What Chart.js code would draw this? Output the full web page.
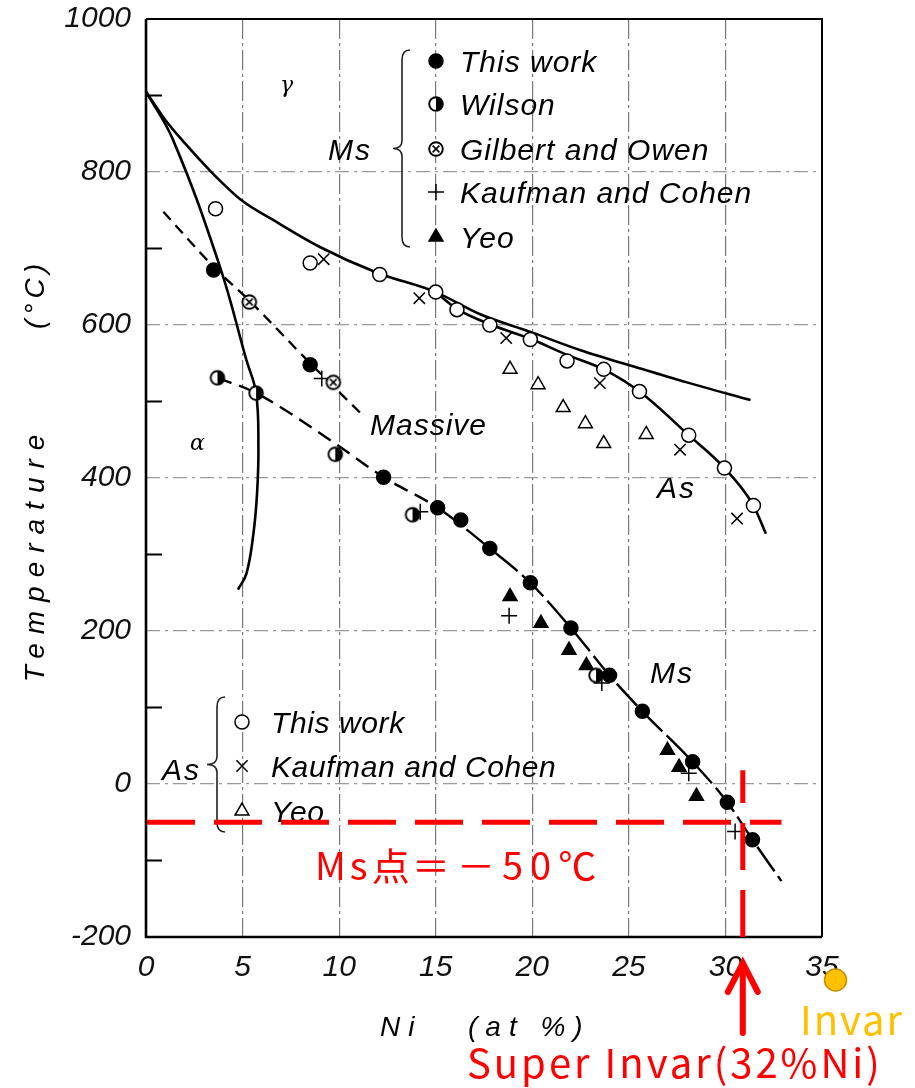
<!DOCTYPE html>
<html>
<head>
<meta charset="utf-8">
<script src="https://cdn.jsdelivr.net/npm/chart.js@4.4.1/dist/chart.umd.min.js"></script>
<style>
html,body{margin:0;padding:0;background:#fff;}
#wrap{width:915px;height:1088px;}
</style>
</head>
<body>
<div id="wrap"><canvas id="grafico" width="915" height="1088"></canvas></div>
<script>
//ejes
const ejeX = {min: 0, max: 35, paso: 5};
const ejeY = {min: -200, max: 1000, paso: 200};

//Ms puntos (Ni at%, temperatura °C)
const msEsteNi = [3.5, 8.5, 12.3, 15.1, 16.3, 17.8, 19.9, 22.0, 24.0, 25.7, 28.3, 30.1, 31.4];
const msEsteT = [672, 548, 401, 361, 345, 308, 263, 204, 142, 95, 29, -24, -73];
const wilsonNi = [3.7, 5.7, 9.8, 13.8, 23.3];
const wilsonT = [531, 511, 431, 352, 142];
const gilbertNi = [5.35, 9.7];
const gilbertT = [630, 525];
const kaufmanMsNi = [9.1, 14.2, 18.8, 23.6, 28.1, 30.5];
const kaufmanMsT = [530, 356, 220, 132, 14, -62];
const yeoMsNi = [18.85, 20.45, 21.9, 22.8, 27.0, 27.6, 28.5];
const yeoMsT = [245, 210, 175, 155, 44, 22, -16];

//As puntos
const asEsteNi = [3.6, 8.5, 12.1, 15.0, 16.1, 17.8, 19.9, 21.8, 23.7, 25.55, 28.1, 29.95, 31.45];
const asEsteT = [752, 681, 666, 643, 620, 600, 581, 553, 542, 513, 456, 413, 364];
const kaufmanAsNi = [9.2, 14.15, 18.65, 23.5, 27.65, 30.6];
const kaufmanAsT = [686, 635, 583, 524, 437, 347];
const yeoAsNi = [18.85, 20.3, 21.6, 22.75, 23.7, 25.9];
const yeoAsT = [542, 522, 492, 471, 445, 457];

//curvas
const curvaSupNi = [0, 1, 2, 3.5, 5, 6.6, 9, 12, 15, 17.3, 19.9, 22.5, 25.6, 28, 31.3];
const curvaSupT = [905, 868, 838, 797, 762, 737, 702, 668, 643, 614, 591, 567, 543, 525, 502];
const curvaAlfaNi = [0, 1.4, 3.83, 5.2, 5.7, 5.82, 5.75, 5.55, 5.2, 4.76];
const curvaAlfaT = [905, 842, 676, 554, 511, 440, 380, 325, 275, 254];
const curvaMasivaNi = [0.9, 3.5, 5.35, 8.5, 11.1];
const curvaMasivaT = [748, 676, 632, 550, 485];
const curvaMsNi = [3.7, 5.7, 9.8, 12.3, 15.1, 17.8, 19.9, 22.0, 24.0, 25.7, 28.3, 30.1, 31.4, 32.9];
const curvaMsT = [531, 511, 445, 401, 361, 308, 263, 204, 142, 95, 29, -24, -73, -127];
const curvaAsNi = [15.0, 16.1, 17.8, 19.9, 21.8, 23.7, 25.55, 28.1, 29.95, 31.45, 32.1];
const curvaAsT = [643, 621, 601, 582, 561, 542, 513, 456, 413, 364, 327];

//marcas en rojo
const msLimite = -50;
const superInvarNi = 30.9;
const invarNi = 35.7;

const pts = (xs, ys) => xs.map((x, i) => ({x: x, y: ys[i]}));

//simbolos especiales
const hacerSimbolo = (tipo) => {
    const c = document.createElement('canvas');
    c.width = 18; c.height = 18;
    const g = c.getContext('2d');
    g.strokeStyle = '#000';
    g.fillStyle = '#fff';
    g.beginPath(); g.arc(9, 9, 6.8, 0, Math.PI * 2); g.fill();
    if (tipo == 'medio') {
        g.fillStyle = '#000';
        g.beginPath(); g.arc(9, 9, 6.8, -Math.PI / 2, Math.PI / 2); g.closePath(); g.fill();
    } else {
        g.lineWidth = 1.6;
        g.beginPath();
        g.moveTo(5.6, 5.6); g.lineTo(12.4, 12.4);
        g.moveTo(12.4, 5.6); g.lineTo(5.6, 12.4);
        g.stroke();
    }
    g.lineWidth = 1.9;
    g.beginPath(); g.arc(9, 9, 6.8, 0, Math.PI * 2); g.stroke();
    return c;
};
const simWilson = hacerSimbolo('medio');
const simGilbert = hacerSimbolo('cruz');

const fuente = '"Liberation Sans", Arial, sans-serif';
const marca = (label, data, estilo) => Object.assign({
    label: label, data: data, showLine: false, order: 0,
    pointRadius: 7, pointHoverRadius: 7, borderColor: '#000', backgroundColor: '#000', pointBorderWidth: 1.5
}, estilo);
const curva = (label, data, estilo) => Object.assign({
    label: label, data: data, showLine: true, order: 1, pointRadius: 0, pointHoverRadius: 0,
    borderColor: '#000', borderWidth: 2.6, fill: false
}, estilo);

const datasets = [
    marca('Ms This work', pts(msEsteNi, msEsteT), {pointStyle: 'circle'}),
    marca('Ms Wilson', pts(wilsonNi, wilsonT), {pointStyle: simWilson}),
    marca('Ms Gilbert and Owen', pts(gilbertNi, gilbertT), {pointStyle: simGilbert}),
    marca('Ms Kaufman and Cohen', pts(kaufmanMsNi, kaufmanMsT), {pointStyle: 'cross', pointRadius: 8}),
    marca('Ms Yeo', pts(yeoMsNi, yeoMsT), {pointStyle: 'triangle', pointRadius: 8}),
    marca('As This work', pts(asEsteNi, asEsteT), {pointStyle: 'circle', backgroundColor: '#fff'}),
    marca('As Kaufman and Cohen', pts(kaufmanAsNi, kaufmanAsT), {pointStyle: 'crossRot', pointRadius: 8}),
    marca('As Yeo', pts(yeoAsNi, yeoAsT), {pointStyle: 'triangle', pointRadius: 8, backgroundColor: '#fff'}),
    curva('superior', pts(curvaSupNi, curvaSupT), {cubicInterpolationMode: 'monotone'}),
    curva('alfa', pts(curvaAlfaNi, curvaAlfaT), {tension: 0.4}),
    curva('Massive', pts(curvaMasivaNi, curvaMasivaT), {tension: 0.3, borderDash: [11, 7], borderWidth: 2.3}),
    curva('Ms', pts(curvaMsNi, curvaMsT), {
        cubicInterpolationMode: 'monotone', borderWidth: 2.4,
        segment: {borderDash: c => c.p0.parsed.x < 15 ? [15, 8] : [30, 6]}
    }),
    curva('As', pts(curvaAsNi, curvaAsT), {cubicInterpolationMode: 'monotone'})
];

const texto = (ctx, s, x, y, font, op) => {
    op = op || {};
    ctx.save();
    ctx.font = font;
    ctx.fillStyle = op.color || '#000';
    ctx.textAlign = op.align || 'left';
    ctx.textBaseline = op.base || 'alphabetic';
    if (op.ls) ctx.letterSpacing = op.ls;
    ctx.fillText(s, x, y);
    ctx.restore();
};

const llave = (ctx, x, y1, y2, punta) => {
    const ym = (y1 + y2) / 2;
    ctx.save();
    ctx.strokeStyle = '#222'; ctx.lineWidth = 1.6;
    ctx.beginPath();
    ctx.moveTo(x + 8, y1);
    ctx.quadraticCurveTo(x, y1, x, y1 + 10);
    ctx.lineTo(x, ym - 8);
    ctx.quadraticCurveTo(x, ym, x - punta, ym);
    ctx.quadraticCurveTo(x, ym, x, ym + 8);
    ctx.lineTo(x, y2 - 10);
    ctx.quadraticCurveTo(x, y2, x + 8, y2);
    ctx.stroke();
    ctx.restore();
};

const simboloLeyenda = (ctx, ds, x, y) => {
    ctx.save();
    ctx.fillStyle = ds.backgroundColor;
    ctx.strokeStyle = '#000';
    ctx.lineWidth = ds.pointBorderWidth;
    Chart.helpers.drawPoint(ctx, {pointStyle: ds.pointStyle, radius: ds.pointRadius, rotation: 0, borderWidth: ds.pointBorderWidth}, x, y);
    ctx.restore();
};

const dibujos = {
    id: 'dibujos',
    afterDraw(chart) {
        const ctx = chart.ctx;
        const a = chart.chartArea;
        const sx = chart.scales.x, sy = chart.scales.y;
        //marco
        ctx.save();
        ctx.strokeStyle = '#000';
        ctx.lineWidth = 2;
        ctx.beginPath();
        ctx.moveTo(a.left, a.top); ctx.lineTo(a.right, a.top); ctx.lineTo(a.right, a.bottom);
        ctx.stroke();
        ctx.lineWidth = 2.6;
        ctx.beginPath();
        ctx.moveTo(a.left, a.top); ctx.lineTo(a.left, a.bottom); ctx.lineTo(a.right, a.bottom);
        ctx.stroke();
        //ticks menores
        ctx.lineWidth = 2;
        for (let v = -100; v < 1000; v += 200) {
            const yy = sy.getPixelForValue(v);
            ctx.beginPath(); ctx.moveTo(a.left, yy); ctx.lineTo(a.left + 16, yy); ctx.stroke();
        }
        ctx.restore();

        //titulos de ejes
        ctx.save();
        ctx.translate(36, 554);
        ctx.rotate(-Math.PI / 2);
        texto(ctx, 'Temperature', 0, 0, 'italic 28px ' + fuente, {align: 'center', base: 'middle', ls: '9px'});
        ctx.restore();
        ctx.save();
        ctx.translate(36, 294);
        ctx.rotate(-Math.PI / 2);
        texto(ctx, '(°C)', 0, 0, 'italic 28px ' + fuente, {align: 'center', base: 'middle', ls: '5px'});
        ctx.restore();
        texto(ctx, 'Ni', 380, 1036, 'italic 28px ' + fuente, {ls: '8px'});
        texto(ctx, '(at %)', 468, 1036, 'italic 28px ' + fuente, {ls: '8px'});

        //etiquetas dentro
        texto(ctx, 'γ', 280, 92, 'italic 22px "DejaVu Serif", serif');
        texto(ctx, 'α', 190, 450, 'italic 22px "DejaVu Serif", serif');
        texto(ctx, 'Massive', 370, 435, 'italic 30px ' + fuente, {ls: '1px'});
        texto(ctx, 'As', 657, 498, 'italic 30px ' + fuente, {ls: '2px'});
        texto(ctx, 'Ms', 650, 683, 'italic 30px ' + fuente, {ls: '2px'});
        texto(ctx, 'Ms', 328, 160, 'italic 30px ' + fuente, {ls: '2px'});
        texto(ctx, 'As', 162, 780, 'italic 30px ' + fuente, {ls: '2px'});

        //leyenda superior (Ms)
        llave(ctx, 402, 50, 247, 9);
        const msNombres = ['This work', 'Wilson', 'Gilbert and Owen', 'Kaufman and Cohen', 'Yeo'];
        const msY = [61, 104, 149, 192, 237];
        msNombres.forEach((n, i) => {
            simboloLeyenda(ctx, datasets[i], 436, msY[i]);
            texto(ctx, n, 460, msY[i] + 11, 'italic 30px ' + fuente, {ls: '1px'});
        });
        //leyenda inferior (As)
        llave(ctx, 217, 697, 832, 10);
        const asNombres = ['This work', 'Kaufman and Cohen', 'Yeo'];
        const asY = [722, 766, 811];
        asNombres.forEach((n, i) => {
            simboloLeyenda(ctx, datasets[5 + i], 242, asY[i]);
            texto(ctx, n, 271, asY[i] + 11, 'italic 30px ' + fuente, {ls: '0.6px'});
        });

        //lineas rojas
        const yMs = sy.getPixelForValue(msLimite);
        const xSI = sx.getPixelForValue(superInvarNi);
        ctx.save();
        ctx.strokeStyle = '#ff0000';
        ctx.lineWidth = 5;
        ctx.setLineDash([48, 19]);
        ctx.beginPath(); ctx.moveTo(a.left + 1, yMs); ctx.lineTo(sx.getPixelForValue(32.9), yMs); ctx.stroke();
        ctx.setLineDash([47, 20]);
        ctx.beginPath(); ctx.moveTo(xSI, a.bottom); ctx.lineTo(xSI, sy.getPixelForValue(18)); ctx.stroke();
        //flecha
        ctx.setLineDash([]);
        ctx.lineWidth = 6;
        ctx.lineCap = 'round';
        ctx.beginPath(); ctx.moveTo(xSI, 1033); ctx.lineTo(xSI, 964); ctx.stroke();
        ctx.beginPath(); ctx.moveTo(xSI - 15, 992); ctx.lineTo(xSI, 963); ctx.lineTo(xSI + 15, 992); ctx.stroke();
        ctx.restore();
        texto(ctx, 'Ms点', 315, 880, '38px "Noto Sans CJK JP", sans-serif', {color: '#ff0000', ls: '4px'});
        texto(ctx, '＝－50℃', 412, 880, '38px "Noto Sans CJK JP", sans-serif', {color: '#ff0000', ls: '7px'});
        texto(ctx, 'Super Invar(32%Ni)', 467, 1078, '40px "Noto Sans CJK JP", sans-serif', {color: '#ff0000', ls: '3px'});
        //invar
        const xI = sx.getPixelForValue(invarNi);
        ctx.save();
        ctx.fillStyle = '#ffc000';
        ctx.strokeStyle = '#c09000';
        ctx.lineWidth = 1.5;
        ctx.beginPath(); ctx.arc(xI, 980, 11, 0, Math.PI * 2); ctx.fill(); ctx.stroke();
        ctx.restore();
        texto(ctx, 'Invar', 800, 1035, '40px "Noto Sans CJK JP", sans-serif', {color: '#ffc000', ls: '2px'});
    }
};

const grafico = new Chart(document.getElementById('grafico'), {
    type: 'scatter',
    data: {datasets: datasets},
    options: {
        responsive: false,
        animation: false,
        layout: {padding: {top: 19, right: 93, bottom: 0, left: 0}},
        plugins: {legend: {display: false}, tooltip: {enabled: false}},
        scales: {
            x: {
                type: 'linear', min: ejeX.min, max: ejeX.max,
                afterFit: s => { s.height = 151; s.paddingLeft = 0; s.paddingRight = 0; },
                ticks: {stepSize: ejeX.paso, padding: 13, color: '#111', callback: v => String(v),
                    font: {family: fuente, size: 30, style: 'italic'}},
                border: {display: false, dash: [20, 4, 3, 4]},
                grid: {drawTicks: false, lineWidth: 1.2,
                    color: c => (c.tick && (c.tick.value == ejeX.min || c.tick.value == ejeX.max)) ? 'rgba(0,0,0,0)' : '#777'}
            },
            y: {
                type: 'linear', min: ejeY.min, max: ejeY.max,
                afterFit: s => { s.width = 146; s.paddingTop = 0; s.paddingBottom = 0; },
                ticks: {stepSize: ejeY.paso, padding: 15, color: '#111', callback: v => String(v),
                    font: {family: fuente, size: 30, style: 'italic'}},
                border: {display: false, dash: [14, 5, 3, 5]},
                grid: {drawTicks: false, lineWidth: 1.2,
                    color: c => (c.tick && (c.tick.value == ejeY.min || c.tick.value == ejeY.max)) ? 'rgba(0,0,0,0)' : '#999'}
            }
        }
    },
    plugins: [dibujos]
});
</script>
</body>
</html>
